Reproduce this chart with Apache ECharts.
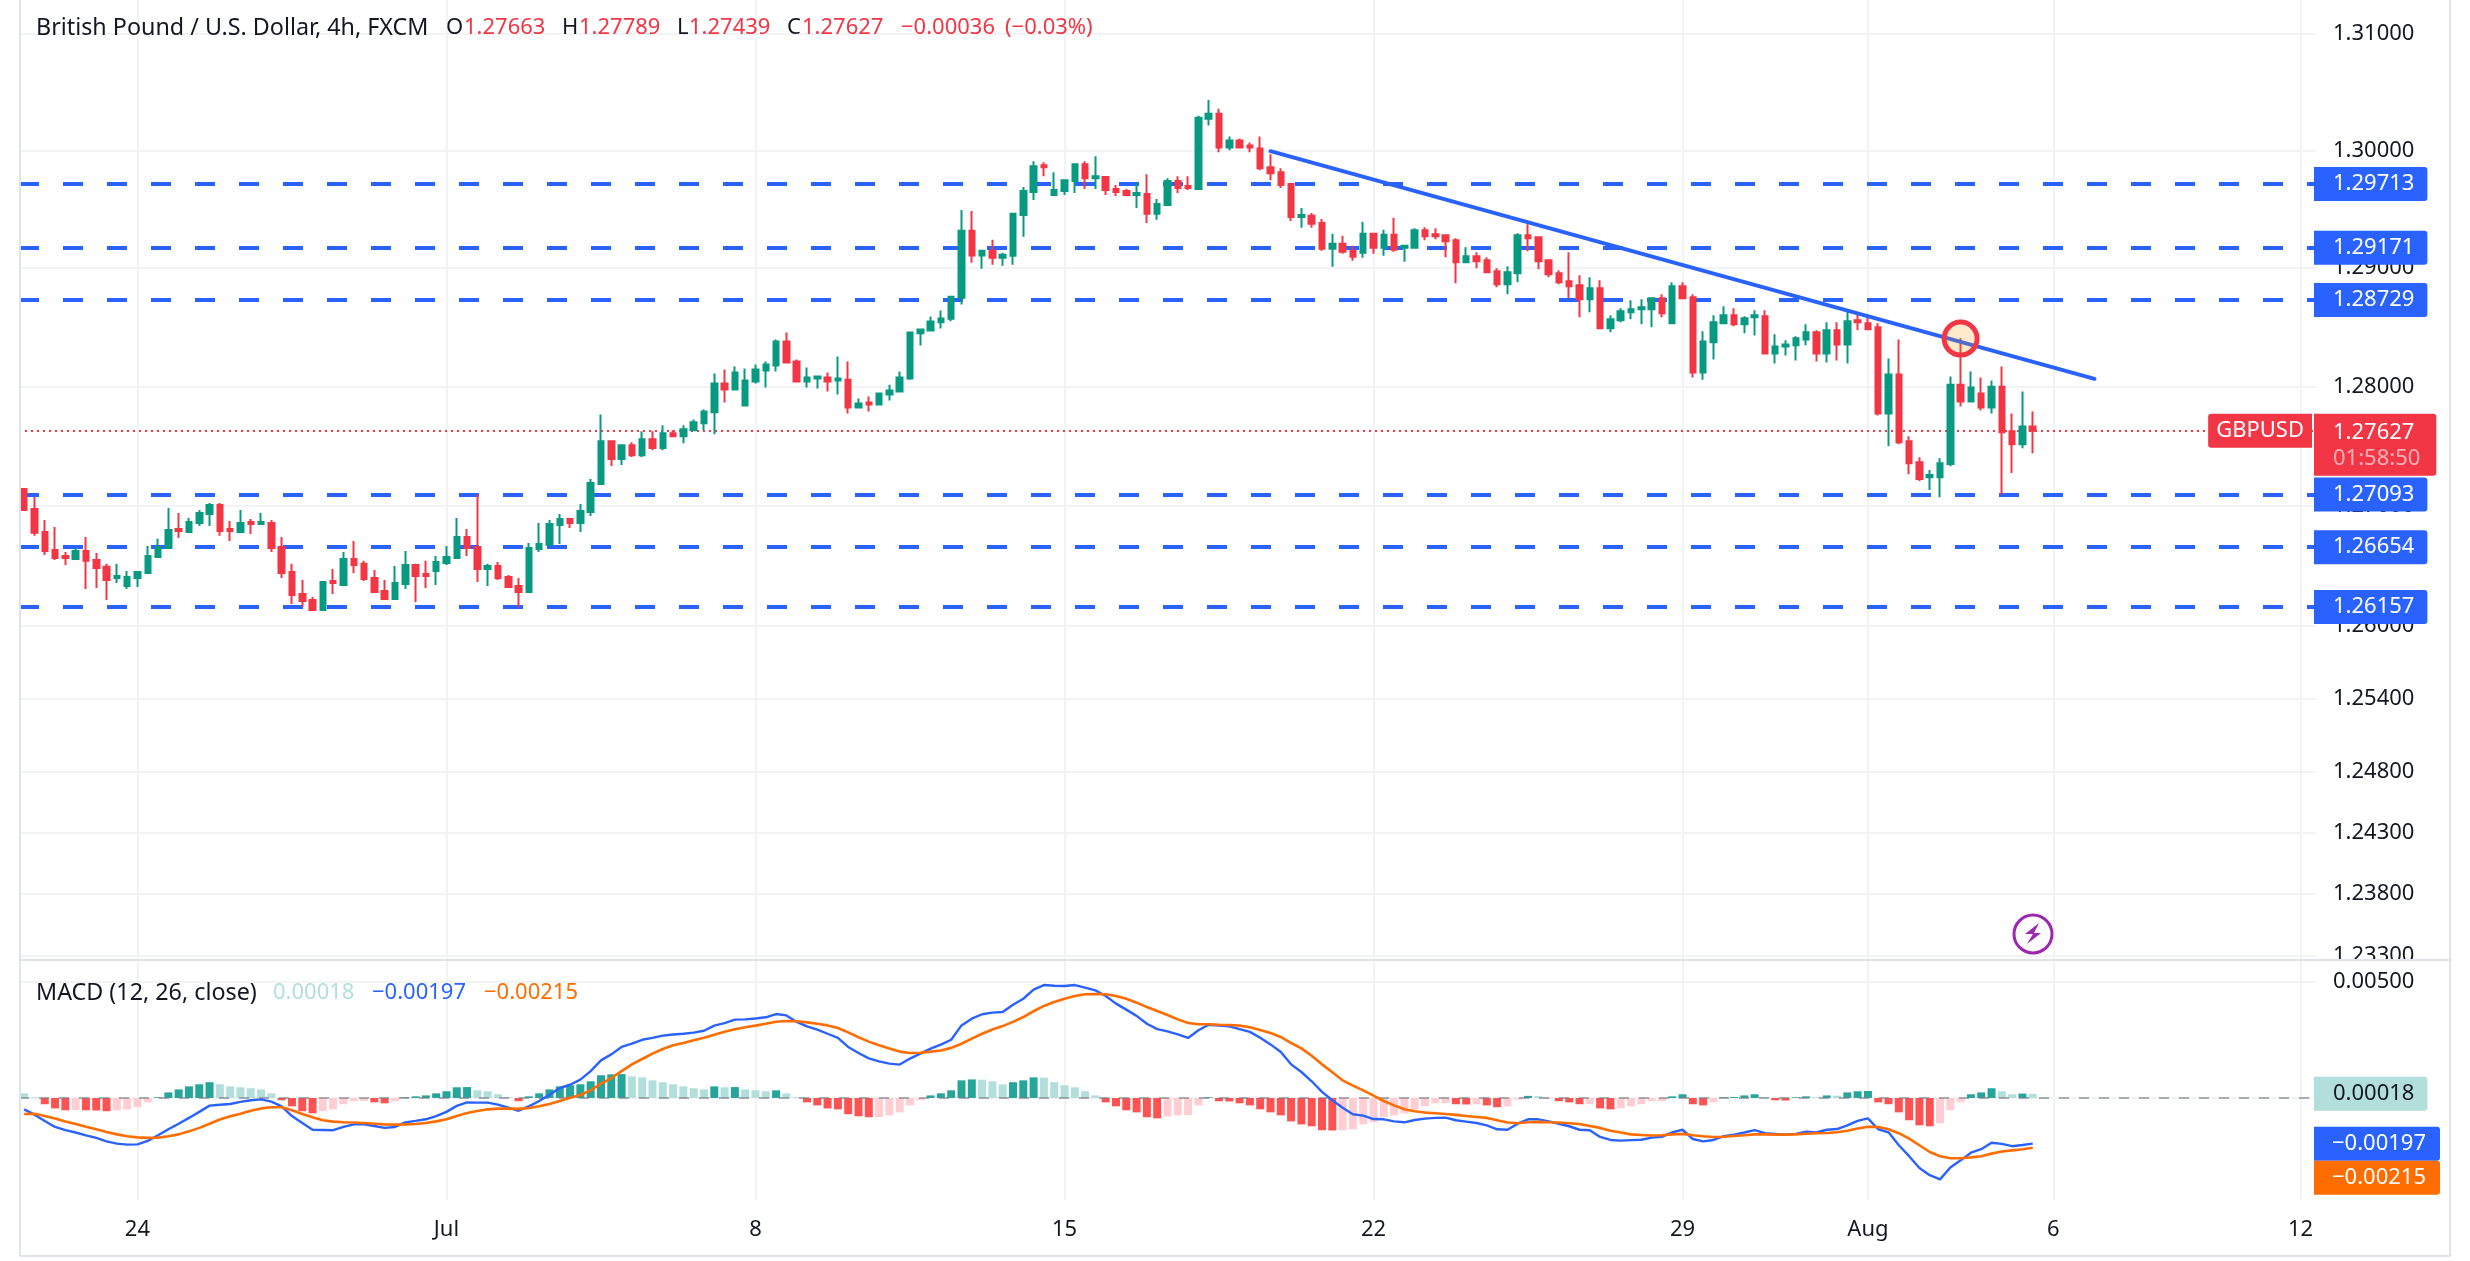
<!DOCTYPE html>
<html>
<head>
<meta charset="utf-8">
<title>GBPUSD 4h</title>
<script src="https://cdn.jsdelivr.net/npm/echarts@6/dist/echarts.min.js"></script>
<style>
  html, body { margin: 0; padding: 0; background: #fff; }
  #chart { width: 2470px; height: 1261px; }
</style>
</head>
<body>
<div id="chart"></div>
<script>
// bars, 4h each: [open, high, low, close]
const candles = [
  [1.27139,1.27147,1.26956,1.26964],[1.26972,1.27072,1.26748,1.26773],[1.26781,1.26881,1.26589,1.26623],[1.26631,1.26822,1.26548,1.26564],
  [1.26581,1.26614,1.26506,1.26564],[1.26556,1.26648,1.26548,1.26623],[1.26623,1.26739,1.26306,1.26540],[1.26548,1.26606,1.26315,1.26481],
  [1.26490,1.26515,1.26215,1.26381],[1.26398,1.26515,1.26356,1.26415],[1.26331,1.26456,1.26306,1.26406],[1.26398,1.26456,1.26323,1.26448],
  [1.26440,1.26664,1.26440,1.26581],[1.26573,1.26723,1.26573,1.26656],[1.26648,1.26981,1.26648,1.26797],[1.26806,1.26939,1.26731,1.26789],
  [1.26781,1.26897,1.26781,1.26864],[1.26856,1.26964,1.26831,1.26939],[1.26931,1.27022,1.26831,1.27006],[1.27006,1.27022,1.26748,1.26789],
  [1.26806,1.26872,1.26706,1.26789],[1.26781,1.26964,1.26773,1.26856],[1.26864,1.26889,1.26764,1.26847],[1.26847,1.26939,1.26839,1.26864],
  [1.26856,1.26881,1.26614,1.26648],[1.26656,1.26739,1.26398,1.26440],[1.26448,1.26515,1.26182,1.26257],[1.26265,1.26381,1.26157,1.26207],
  [1.26215,1.26240,1.26123,1.26132],[1.26132,1.26365,1.26132,1.26365],[1.26373,1.26473,1.26265,1.26356],[1.26340,1.26614,1.26340,1.26556],
  [1.26556,1.26706,1.26440,1.26506],[1.26515,1.26540,1.26373,1.26390],[1.26398,1.26465,1.26282,1.26282],[1.26290,1.26381,1.26215,1.26223],
  [1.26223,1.26498,1.26223,1.26356],[1.26348,1.26623,1.26306,1.26506],[1.26506,1.26515,1.26198,1.26415],[1.26431,1.26540,1.26315,1.26415],
  [1.26456,1.26581,1.26340,1.26531],[1.26523,1.26664,1.26506,1.26573],[1.26564,1.26897,1.26564,1.26739],[1.26739,1.26806,1.26581,1.26648],
  [1.26656,1.27097,1.26365,1.26473],[1.26473,1.26515,1.26331,1.26498],[1.26498,1.26531,1.26381,1.26398],[1.26406,1.26423,1.26323,1.26323],
  [1.26331,1.26398,1.26157,1.26282],[1.26282,1.26689,1.26273,1.26648],[1.26639,1.26856,1.26614,1.26681],[1.26673,1.26881,1.26673,1.26847],
  [1.26839,1.26931,1.26681,1.26889],[1.26889,1.26889,1.26814,1.26855],[1.26855,1.27014,1.26780,1.26955],[1.26947,1.27222,1.26914,1.27189],
  [1.27180,1.27764,1.27180,1.27539],[1.27539,1.27539,1.27331,1.27389],[1.27389,1.27514,1.27339,1.27506],[1.27506,1.27531,1.27406,1.27422],
  [1.27422,1.27622,1.27406,1.27556],[1.27556,1.27622,1.27464,1.27481],[1.27481,1.27672,1.27464,1.27606],[1.27606,1.27631,1.27572,1.27581],
  [1.27581,1.27672,1.27522,1.27639],[1.27631,1.27722,1.27631,1.27697],[1.27689,1.27806,1.27631,1.27789],[1.27781,1.28107,1.27597,1.28023],
  [1.28023,1.28141,1.27864,1.27972],[1.27972,1.28166,1.27972,1.28116],[1.27839,1.28149,1.27839,1.28048],[1.28040,1.28183,1.28023,1.28141],
  [1.28133,1.28209,1.27989,1.28183],[1.28175,1.28395,1.28124,1.28378],[1.28378,1.28454,1.28192,1.28200],[1.28209,1.28226,1.28040,1.28040],
  [1.28040,1.28158,1.27989,1.28073],[1.28065,1.28082,1.27981,1.28082],[1.28073,1.28116,1.27956,1.28040],[1.28048,1.28251,1.27931,1.28065],
  [1.28056,1.28209,1.27772,1.27822],[1.27822,1.27897,1.27814,1.27856],[1.27864,1.27914,1.27789,1.27847],[1.27847,1.27939,1.27839,1.27939],
  [1.27931,1.28014,1.27881,1.27964],[1.27956,1.28124,1.27956,1.28073],[1.28065,1.28462,1.28056,1.28454],[1.28446,1.28479,1.28344,1.28479],
  [1.28471,1.28589,1.28462,1.28547],[1.28539,1.28640,1.28488,1.28572],[1.28570,1.28762,1.28548,1.28756],[1.28748,1.29492,1.28689,1.29315],
  [1.29315,1.29484,1.29044,1.29106],[1.29106,1.29154,1.28993,1.29146],[1.29146,1.29239,1.29027,1.29086],[1.29086,1.29129,1.29019,1.29112],
  [1.29103,1.29459,1.29027,1.29459],[1.29450,1.29687,1.29264,1.29653],[1.29645,1.29907,1.29577,1.29865],[1.29873,1.29898,1.29780,1.29856],
  [1.29619,1.29814,1.29619,1.29662],[1.29653,1.29746,1.29619,1.29746],[1.29738,1.29890,1.29636,1.29882],[1.29882,1.29907,1.29670,1.29763],
  [1.29763,1.29949,1.29670,1.29780],[1.29772,1.29772,1.29619,1.29662],[1.29670,1.29704,1.29611,1.29645],[1.29653,1.29670,1.29611,1.29619],
  [1.29619,1.29729,1.29509,1.29636],[1.29628,1.29797,1.29382,1.29459],[1.29459,1.29585,1.29408,1.29543],[1.29535,1.29763,1.29526,1.29738],
  [1.29738,1.29780,1.29636,1.29679],[1.29695,1.29780,1.29662,1.29679],[1.29670,1.30296,1.29662,1.30279],[1.30271,1.30431,1.30212,1.30313],
  [1.30313,1.30355,1.29983,1.30025],[1.30025,1.30118,1.30000,1.30085],[1.30085,1.30102,1.30017,1.30025],[1.30042,1.30068,1.29983,1.30025],
  [1.30017,1.30118,1.29831,1.29848],[1.29856,1.29966,1.29746,1.29805],[1.29814,1.29848,1.29679,1.29704],[1.29712,1.29721,1.29399,1.29433],
  [1.29433,1.29509,1.29340,1.29450],[1.29442,1.29467,1.29340,1.29374],[1.29382,1.29416,1.29146,1.29162],[1.29162,1.29289,1.29010,1.29205],
  [1.29205,1.29272,1.29120,1.29137],[1.29146,1.29188,1.29061,1.29095],[1.29129,1.29391,1.29086,1.29289],[1.29289,1.29298,1.29120,1.29171],
  [1.29171,1.29323,1.29103,1.29281],[1.29281,1.29425,1.29137,1.29154],[1.29171,1.29196,1.29052,1.29188],[1.29170,1.29336,1.29170,1.29319],
  [1.29319,1.29345,1.29234,1.29268],[1.29285,1.29336,1.29243,1.29268],[1.29277,1.29285,1.29090,1.29226],[1.29234,1.29251,1.28870,1.29048],
  [1.29048,1.29175,1.29040,1.29099],[1.29099,1.29133,1.28997,1.29057],[1.29065,1.29090,1.28955,1.28963],[1.28972,1.28997,1.28836,1.28862],
  [1.28862,1.29014,1.28777,1.28963],[1.28955,1.29294,1.28879,1.29277],[1.29277,1.29370,1.29141,1.29251],[1.29260,1.29268,1.28989,1.29057],
  [1.29065,1.29073,1.28921,1.28946],[1.28955,1.28980,1.28862,1.28879],[1.28887,1.29133,1.28743,1.28845],[1.28853,1.28938,1.28582,1.28734],
  [1.28734,1.28921,1.28624,1.28828],[1.28828,1.28895,1.28489,1.28489],[1.28489,1.28599,1.28455,1.28565],[1.28556,1.28658,1.28540,1.28633],
  [1.28624,1.28726,1.28565,1.28650],[1.28650,1.28734,1.28523,1.28667],[1.28650,1.28751,1.28497,1.28743],[1.28743,1.28777,1.28582,1.28616],
  [1.28531,1.28879,1.28531,1.28845],[1.28845,1.28879,1.28734,1.28743],[1.28751,1.28777,1.28073,1.28116],[1.28116,1.28463,1.28056,1.28378],
  [1.28370,1.28599,1.28226,1.28540],[1.28531,1.28675,1.28531,1.28599],[1.28599,1.28658,1.28506,1.28523],[1.28523,1.28590,1.28446,1.28573],
  [1.28582,1.28641,1.28429,1.28599],[1.28590,1.28641,1.28277,1.28277],[1.28277,1.28438,1.28192,1.28336],[1.28336,1.28387,1.28260,1.28353],
  [1.28345,1.28421,1.28217,1.28404],[1.28395,1.28523,1.28345,1.28455],[1.28455,1.28472,1.28209,1.28277],[1.28277,1.28540,1.28200,1.28472],
  [1.28472,1.28540,1.28217,1.28353],[1.28353,1.28650,1.28192,1.28548],[1.28556,1.28624,1.28472,1.28540],[1.28531,1.28607,1.28472,1.28480],
  [1.28497,1.28531,1.27755,1.27772],[1.27772,1.28234,1.27497,1.28099],[1.28099,1.28395,1.27513,1.27530],[1.27539,1.27580,1.27263,1.27355],
  [1.27363,1.27405,1.27205,1.27222],[1.27238,1.27297,1.27130,1.27255],[1.27238,1.27397,1.27071,1.27355],[1.27347,1.28082,1.27330,1.28014],
  [1.28014,1.28404,1.27830,1.27872],[1.27872,1.28124,1.27872,1.27989],[1.27939,1.28073,1.27797,1.27822],[1.27822,1.28048,1.27772,1.27997],
  [1.27997,1.28167,1.27096,1.27614],[1.27622,1.27772,1.27272,1.27513],[1.27513,1.27956,1.27480,1.27663],[1.27663,1.27789,1.27439,1.27627]
];

const macdLine = [
  -.00049,-.00072,-.00099,-.00125,-.00139,-.00149,-.00161,-.00172,-.00187,-.00197,-.00201,-.00200,-.00185,-.00161,-.00135,-.00111,-.00086,-.00060,-.00033,-.00029,
  -.00026,-.00017,-.00010,-.00006,-.00016,-.00036,-.00078,-.00108,-.00137,-.00138,-.00139,-.00125,-.00114,-.00114,-.00121,-.00129,-.00125,-.00105,-.00099,-.00092,
  -.00078,-.00060,-.00034,-.00019,-.00020,-.00020,-.00029,-.00042,-.00055,-.00036,-.00013,.00014,.00043,.00057,.00079,.00116,.00162,.00188,.00220,.00234,
  .00251,.00259,.00269,.00274,.00277,.00282,.00290,.00312,.00323,.00338,.00339,.00343,.00348,.00362,.00356,.00328,.00309,.00295,.00277,.00259,
  .00220,.00194,.00171,.00158,.00148,.00144,.00170,.00191,.00213,.00230,.00251,.00313,.00342,.00361,.00368,.00371,.00402,.00428,.00467,.00487,
  .00484,.00483,.00487,.00476,.00464,.00440,.00407,.00381,.00354,.00320,.00297,.00287,.00274,.00259,.00292,.00316,.00312,.00309,.00297,.00285,
  .00260,.00231,.00198,.00145,.00112,.00072,.00026,-.00010,-.00042,-.00070,-.00076,-.00091,-.00092,-.00101,-.00105,-.00095,-.00089,-.00086,-.00085,-.00096,
  -.00102,-.00108,-.00118,-.00135,-.00137,-.00111,-.00092,-.00092,-.00101,-.00111,-.00122,-.00137,-.00139,-.00168,-.00181,-.00184,-.00182,-.00180,-.00171,-.00168,
  -.00148,-.00137,-.00177,-.00187,-.00181,-.00165,-.00158,-.00149,-.00139,-.00152,-.00155,-.00158,-.00155,-.00145,-.00149,-.00137,-.00134,-.00118,-.00099,-.00088,
  -.00135,-.00148,-.00204,-.00251,-.00302,-.00333,-.00351,-.00300,-.00269,-.00236,-.00221,-.00193,-.00198,-.00208,-.00203,-.00197
];

const signalLine = [
  -.00069,-.00068,-.00078,-.00089,-.00101,-.00112,-.00124,-.00135,-.00147,-.00157,-.00165,-.00170,-.00172,-.00171,-.00165,-.00157,-.00144,-.00129,-.00111,-.00093,
  -.00079,-.00068,-.00055,-.00045,-.00040,-.00040,-.00053,-.00069,-.00083,-.00096,-.00102,-.00105,-.00106,-.00108,-.00111,-.00114,-.00115,-.00114,-.00112,-.00108,
  -.00101,-.00092,-.00078,-.00065,-.00056,-.00049,-.00046,-.00046,-.00047,-.00043,-.00036,-.00026,-.00013,.00001,.00013,.00033,.00062,.00086,.00116,.00145,
  .00168,.00191,.00211,.00227,.00237,.00249,.00260,.00273,.00286,.00296,.00305,.00312,.00320,.00329,.00332,.00331,.00326,.00320,.00313,.00302,
  .00283,.00262,.00243,.00227,.00213,.00200,.00194,.00195,.00200,.00205,.00216,.00234,.00256,.00277,.00295,.00310,.00328,.00349,.00374,.00397,
  .00414,.00428,.00440,.00447,.00448,.00447,.00440,.00428,.00411,.00392,.00375,.00358,.00339,.00323,.00318,.00318,.00316,.00315,.00312,.00305,
  .00293,.00280,.00263,.00237,.00214,.00182,.00145,.00111,.00076,.00053,.00033,.00010,-.00013,-.00032,-.00049,-.00057,-.00063,-.00066,-.00069,-.00073,
  -.00078,-.00082,-.00086,-.00096,-.00106,-.00109,-.00105,-.00103,-.00105,-.00106,-.00109,-.00112,-.00121,-.00129,-.00141,-.00149,-.00157,-.00160,-.00162,-.00161,
  -.00157,-.00155,-.00161,-.00165,-.00168,-.00167,-.00164,-.00161,-.00157,-.00157,-.00158,-.00158,-.00157,-.00154,-.00152,-.00151,-.00148,-.00141,-.00132,-.00124,
  -.00125,-.00135,-.00152,-.00175,-.00204,-.00233,-.00251,-.00260,-.00260,-.00256,-.00251,-.00240,-.00231,-.00226,-.00221,-.00215
];

const histogram = [
  .00020,.00003,-.00027,-.00045,-.00053,-.00052,-.00053,-.00054,-.00057,-.00053,-.00049,-.00040,-.00019,.00003,.00024,.00037,.00050,.00059,.00068,.00059,
  .00050,.00046,.00042,.00037,.00020,-.00010,-.00036,-.00057,-.00066,-.00057,-.00049,-.00027,-.00014,-.00013,-.00019,-.00023,-.00014,.00003,.00007,.00011,
  .00020,.00029,.00046,.00047,.00033,.00029,.00016,.00003,-.00014,.00007,.00020,.00037,.00050,.00055,.00059,.00072,.00098,.00102,.00103,.00093,
  .00089,.00076,.00068,.00059,.00050,.00042,.00037,.00050,.00046,.00047,.00037,.00033,.00029,.00033,.00020,.00003,-.00019,-.00032,-.00045,-.00049,
  -.00070,-.00079,-.00083,-.00082,-.00075,-.00062,-.00032,-.00010,.00011,.00020,.00033,.00076,.00080,.00079,.00072,.00059,.00068,.00076,.00089,.00088,
  .00068,.00055,.00046,.00029,.00011,-.00019,-.00036,-.00053,-.00062,-.00083,-.00088,-.00079,-.00075,-.00074,-.00032,.00003,-.00014,-.00015,-.00023,-.00032,
  -.00049,-.00062,-.00075,-.00101,-.00114,-.00122,-.00139,-.00140,-.00139,-.00135,-.00114,-.00105,-.00083,-.00075,-.00066,-.00049,-.00036,-.00023,-.00022,-.00027,
  -.00028,-.00027,-.00032,-.00040,-.00036,-.00007,.00009,.00008,-.00001,-.00014,-.00019,-.00027,-.00026,-.00045,-.00049,-.00045,-.00036,-.00027,-.00014,-.00013,
  .00007,.00016,-.00027,-.00032,-.00019,.00003,.00004,.00011,.00016,.00003,-.00010,-.00011,.00003,.00007,.00003,.00011,.00010,.00024,.00029,.00030,
  -.00019,-.00027,-.00062,-.00096,-.00118,-.00122,-.00109,-.00053,-.00019,.00016,.00024,.00042,.00029,.00016,.00019,.00018
];

const barCount = 223;
const dateBars = [11, 41, 71, 101, 131, 161, 179, 197, 221];
const dateLabels = ['24', 'Jul', '8', '15', '22', '29', 'Aug', '6', '12'];

const priceTicks = [1.31, 1.30, 1.29, 1.28, 1.27, 1.26, 1.254, 1.248, 1.243, 1.238, 1.233];
const levels = [1.29713, 1.29171, 1.28729, 1.27093, 1.26654, 1.26157];
const lastPrice = 1.27627;
const trendBars = [121, 201];
const trendPrices = [1.29993, 1.28063];
const touchBar = 188;
const touchPrice = 1.28402;

const macdTicks = [0.005];

const FONT = '"Noto Sans"';
const FS = 22;
const UP = '#089981', DOWN = '#f23645', BLUE = '#2962ff', ORANGE = '#ff6d00';
const GRID = '#f2f3f5', BORDER = '#e0e3eb', TEXT = '#131722';
const CLEAR = 'rgba(0,0,0,0)';

// price scale of the original is logarithmic, so plot ln(price)
const lnp = Math.log;
const fmtPrice = v => Math.exp(v).toFixed(5);
const fmtSigned = v => v.toFixed(5).replace('-', '\u2212');

const categories = [];
for (let i = 0; i < barCount; i++) {
  const k = dateBars.indexOf(i);
  categories.push(k >= 0 ? dateLabels[k] : '');
}
const isDateBar = i => dateBars.indexOf(i) >= 0;

// histogram colour depends on the direction against the previous bar
const histColor = (v, prev) => {
  if (v >= 0) return prev !== undefined && v > prev ? '#26a69a' : '#b2dfdb';
  return prev !== undefined && v < prev ? '#ff5252' : '#ffcdd2';
};

const sideTag = (bg, color) => ({
  show: true,
  position: 'end',
  distance: 0,
  offset: [-2, 0],
  fontFamily: FONT,
  fontSize: FS,
  lineHeight: 22,
  color: color,
  backgroundColor: bg,
  borderRadius: [0, 3, 3, 0],
  padding: [7, 13, 5, 19]
});

// header pieces: [text, x, colour, font size]
const headerTop = [
  ['British Pound / U.S. Dollar, 4h, FXCM', 36, TEXT, 23.3],
  ['O', 446, TEXT, FS], ['1.27663', 464, DOWN, FS],
  ['H', 562, TEXT, FS], ['1.27789', 579, DOWN, FS],
  ['L', 677, TEXT, FS], ['1.27439', 689, DOWN, FS],
  ['C', 787, TEXT, FS], ['1.27627', 802, DOWN, FS],
  ['\u22120.00036', 901, DOWN, FS], ['(\u22120.03%)', 1005, DOWN, FS]
];
const headerMacd = [
  ['MACD (12, 26, close)', 36, TEXT, 23.3],
  ['0.00018', 273, '#b2dfdb', FS],
  ['\u22120.00197', 372, BLUE, FS],
  ['\u22120.00215', 484, ORANGE, FS]
];
const headerText = (items, y) => items.map(it => ({
  type: 'text', x: it[1], y: y, z: 50,
  style: { text: it[0], fill: it[2], font: it[3] + 'px ' + FONT, textVerticalAlign: 'middle' }
}));

const frameLine = (x1, y1, x2, y2) => ({
  type: 'line', z: 40, silent: true,
  shape: { x1, y1, x2, y2 },
  style: { stroke: BORDER, lineWidth: 2 }
});

const chart = echarts.init(document.getElementById('chart'));
chart.setOption({
  animation: false,
  backgroundColor: '#fff',
  textStyle: { fontFamily: FONT },
  grid: [
    { left: 19, top: 0, width: 2297, height: 960 },
    { left: 19, top: 960, width: 2297, height: 240 }
  ],
  xAxis: [0, 1].map(i => ({
    type: 'category',
    gridIndex: i,
    data: categories,
    axisLine: { show: false },
    axisTick: { show: false },
    axisLabel: {
      show: i === 1, interval: 0, margin: 19,
      fontFamily: FONT, fontSize: FS, color: TEXT
    },
    splitLine: {
      show: true, alignWithLabel: true,
      interval: isDateBar,
      lineStyle: { color: GRID, width: 2 }
    }
  })),
  yAxis: [
    {
      type: 'value', gridIndex: 0, position: 'right', scale: true,
      min: lnp(1.23264), max: lnp(1.31291),
      axisLine: { show: false },
      axisTick: { show: false, customValues: priceTicks.map(lnp) },
      axisLabel: {
        customValues: priceTicks.map(lnp), margin: 17, padding: [3, 0, 0, 0],
        formatter: fmtPrice, fontFamily: FONT, fontSize: FS, color: TEXT
      },
      splitLine: { show: true, lineStyle: { color: GRID, width: 2 } }
    },
    {
      type: 'value', gridIndex: 1, position: 'right',
      min: -0.0044, max: 0.00595,
      axisLine: { show: false },
      axisTick: { show: false, customValues: macdTicks.concat([0]) },
      axisLabel: {
        customValues: macdTicks, margin: 17, padding: [3, 0, 0, 0],
        formatter: v => v.toFixed(5), fontFamily: FONT, fontSize: FS, color: TEXT
      },
      splitLine: { show: true, lineStyle: { color: GRID, width: 2 } }
    }
  ],
  series: [
    {
      type: 'candlestick',
      xAxisIndex: 0, yAxisIndex: 0,
      barWidth: 6,
      itemStyle: { color: UP, color0: DOWN, borderColor: UP, borderColor0: DOWN, borderWidth: 2 },
      data: candles.map(c => [lnp(c[0]), lnp(c[3]), lnp(c[2]), lnp(c[1])]),
      markLine: {
        silent: true, z: 1, precision: 10,
        symbol: ['none', 'none'],
        data: levels.map(v => ({
          yAxis: lnp(v),
          name: v.toFixed(5),
          lineStyle: { color: BLUE, width: 4, type: [20, 24], opacity: 1 },
          label: Object.assign(sideTag(BLUE, '#fff'), { formatter: '{b}' })
        })).concat([
          {
            yAxis: lnp(lastPrice),
            name: lastPrice.toFixed(5),
            lineStyle: { color: DOWN, width: 2, type: [2, 4], opacity: 1 },
            label: Object.assign(sideTag(DOWN, '#fff'), {
              formatter: '{p|' + lastPrice.toFixed(5) + '}\n{t|01:58:50}',
              offset: [-2, 14],
              padding: [6, 16, 4, 19],
              rich: {
                p: { color: '#fff', fontSize: FS, fontFamily: FONT, lineHeight: 26 },
                t: { color: 'rgba(255,255,255,0.6)', fontSize: FS, fontFamily: FONT, lineHeight: 26 }
              }
            })
          },
          {
            yAxis: lnp(lastPrice),
            name: 'GBPUSD',
            lineStyle: { color: CLEAR, opacity: 1 },
            label: {
              show: true, position: 'insideEnd', distance: 4, formatter: '{b}',
              fontFamily: FONT, fontSize: FS, lineHeight: 22, color: '#fff',
              backgroundColor: DOWN, borderRadius: [3, 0, 0, 3], padding: [7, 8, 5, 8]
            }
          }
        ])
      }
    },
    {
      type: 'line',
      xAxisIndex: 0, yAxisIndex: 0, z: 4,
      showSymbol: false, silent: true,
      lineStyle: { color: BLUE, width: 4, cap: 'round' },
      data: trendBars.map((b, i) => [b, lnp(trendPrices[i])])
    },
    {
      type: 'scatter',
      xAxisIndex: 0, yAxisIndex: 0, z: 5,
      symbolSize: 33, silent: true,
      itemStyle: { color: 'rgba(255,152,0,0.2)', borderColor: DOWN, borderWidth: 5, opacity: 1 },
      data: [[touchBar, lnp(touchPrice)]]
    },
    {
      type: 'bar',
      xAxisIndex: 1, yAxisIndex: 1,
      barWidth: 8,
      data: histogram.map((v, i) => ({ value: v, itemStyle: { color: histColor(v, histogram[i - 1]) } })),
      markLine: {
        silent: true, z: 3, precision: 10,
        symbol: ['none', 'none'],
        data: [
          {
            yAxis: 0,
            lineStyle: { color: 'rgba(120,123,134,0.6)', width: 2, type: [10, 10], opacity: 1 },
            label: { show: false }
          },
          {
            yAxis: histogram[histogram.length - 1],
            lineStyle: { color: CLEAR, opacity: 1 },
            label: Object.assign(sideTag('#b2dfdb', TEXT), { formatter: fmtSigned(histogram[histogram.length - 1]) })
          }
        ]
      }
    },
    {
      type: 'line',
      xAxisIndex: 1, yAxisIndex: 1, z: 4,
      showSymbol: false, silent: true,
      lineStyle: { color: BLUE, width: 2.4 },
      data: macdLine,
      markLine: {
        silent: true, z: 6, precision: 10, symbol: ['none', 'none'],
        data: [{
          yAxis: macdLine[macdLine.length - 1],
          lineStyle: { color: CLEAR, opacity: 1 },
          label: Object.assign(sideTag(BLUE, '#fff'), { formatter: fmtSigned(macdLine[macdLine.length - 1]), padding: [7, 14, 5, 18] })
        }]
      }
    },
    {
      type: 'line',
      xAxisIndex: 1, yAxisIndex: 1, z: 4,
      showSymbol: false, silent: true,
      lineStyle: { color: ORANGE, width: 2.6 },
      data: signalLine,
      markLine: {
        silent: true, z: 6, precision: 10, symbol: ['none', 'none'],
        data: [{
          yAxis: signalLine[signalLine.length - 1],
          lineStyle: { color: CLEAR, opacity: 1 },
          label: Object.assign(sideTag(ORANGE, '#fff'), {
            formatter: fmtSigned(signalLine[signalLine.length - 1]),
            padding: [7, 14, 5, 18], offset: [-2, 30]
          })
        }]
      }
    }
  ],
  graphic: {
    elements: [
      // the last price label is cut by the pane border
      { type: 'rect', z: 30, silent: true, shape: { x: 2318, y: 961, width: 130, height: 9 }, style: { fill: '#fff' } },
      frameLine(20, 0, 20, 1256),
      frameLine(20, 960, 2450, 960),
      frameLine(20, 1256, 2450, 1256),
      frameLine(2450, 0, 2450, 1256),
      { type: 'circle', z: 50, silent: true, shape: { cx: 2033, cy: 934, r: 19 }, style: { fill: 'rgba(255,255,255,0)', stroke: '#9c27b0', lineWidth: 3 } },
      {
        type: 'polygon', z: 51, silent: true,
        shape: { points: [[2039, 923], [2025, 934], [2033, 934], [2027, 944], [2041, 933], [2034, 933]] },
        style: { fill: '#9c27b0' }
      }
    ].concat(headerText(headerTop, 28), headerText(headerMacd, 993))
  }
});

window.addEventListener('resize', () => chart.resize());
</script>
</body>
</html>
